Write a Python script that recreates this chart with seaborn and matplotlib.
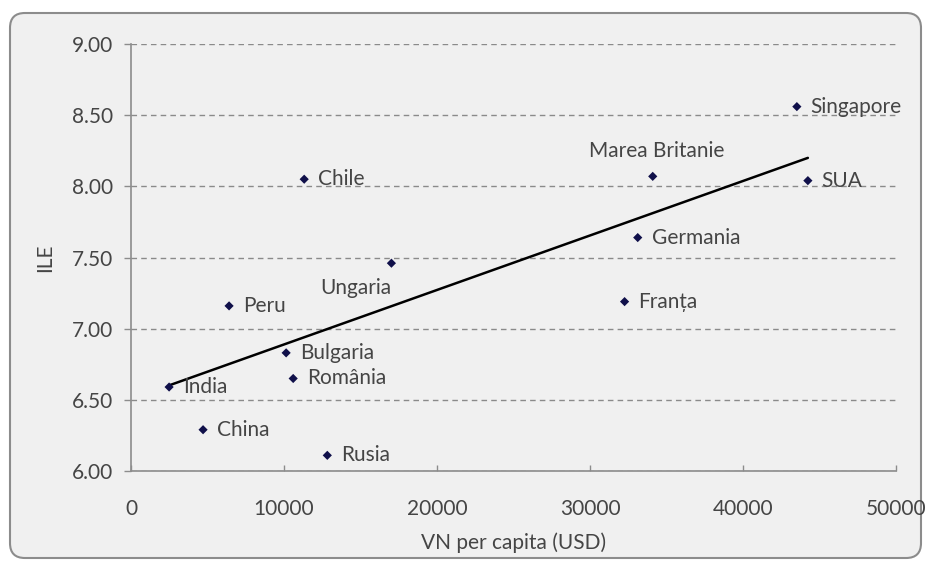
import numpy as np
import pandas as pd
import matplotlib
matplotlib.use("Agg")
import matplotlib.pyplot as plt
import seaborn as sns
from matplotlib.patches import FancyBboxPatch
from matplotlib.ticker import FormatStrFormatter

# Data
countries = ["India", "China", "Rusia", "Peru", "Bulgaria", "România", "Chile",
             "Ungaria", "Germania", "Franța", "Marea Britanie", "Singapore", "SUA"]
gdp_per_capita = [2490, 4710, 12830, 6410, 10140, 10600, 11320,
                  17020, 33120, 32260, 34100, 43520, 44240]
ile = [6.59, 6.29, 6.11, 7.16, 6.83, 6.65, 8.05,
       7.46, 7.64, 7.19, 8.07, 8.56, 8.04]
x_ticks = [0, 10000, 20000, 30000, 40000, 50000]
y_ticks = [6.0, 6.5, 7.0, 7.5, 8.0, 8.5, 9.0]

# label placement (offset in points, horizontal alignment)
label_pos = {"Marea Britanie": ((3, 18), "center"),
             "Ungaria": ((0, -18), "right")}
default_pos = ((10, 0), "left")

df = pd.DataFrame({"country": countries, "gdp": gdp_per_capita, "ile": ile})

sns.set_style("white")
plt.rcParams["font.family"] = ["Lato", "DejaVu Sans"]

text_color = "#454545"
axis_color = "#8c8c8c"
fs = 15

fig = plt.figure(figsize=(9.31, 5.69), dpi=100, facecolor="white")

# rounded frame around the chart area
frame = FancyBboxPatch((10 / 931, 1 - 558 / 569), 911 / 931, 545 / 569,
                       boxstyle="round,pad=0,rounding_size=0.016",
                       mutation_aspect=931 / 569,
                       transform=fig.transFigure, facecolor="#f0f0f0",
                       edgecolor="#8c8c8c", linewidth=1.5, zorder=-10)
fig.patches.append(frame)

ax = fig.add_axes([131 / 931, 1 - 471 / 569, 765 / 931, 427 / 569])
ax.set_facecolor("none")
ax.set_zorder(1)

# trend line (linear fit)
sns.regplot(data=df, x="gdp", y="ile", scatter=False, ci=None, color="black",
            line_kws={"linewidth": 1.8}, ax=ax)
sns.scatterplot(data=df, x="gdp", y="ile", marker="D", s=22, color="#10104a",
                edgecolor="none", ax=ax, zorder=3)

for name, xv, yv in zip(countries, gdp_per_capita, ile):
    offset, ha = label_pos.get(name, default_pos)
    ax.annotate(name, (xv, yv), xytext=offset, textcoords="offset points",
                ha=ha, va="center", fontsize=fs, color=text_color)

ax.set_xlim(x_ticks[0], x_ticks[-1])
ax.set_ylim(y_ticks[0], y_ticks[-1])
ax.set_xticks(x_ticks)
ax.set_yticks(y_ticks)
ax.yaxis.set_major_formatter(FormatStrFormatter("%.2f"))

ax.grid(axis="y", color="#8a8a8a", linestyle=(0, (4, 3)), linewidth=1)
ax.set_axisbelow(True)

sns.despine(ax=ax, top=True, right=True)
for side in ["left", "bottom"]:
    ax.spines[side].set_color(axis_color)
    ax.spines[side].set_linewidth(1.2)

ax.tick_params(axis="y", direction="out", length=5, width=1, color=axis_color,
               pad=8, labelsize=fs, labelcolor=text_color, left=True)
ax.tick_params(axis="x", direction="in", length=4, width=1, color=axis_color,
               pad=20, labelsize=fs, labelcolor=text_color, bottom=True)

ax.set_xlabel("VN per capita (USD)", fontsize=fs, color=text_color, labelpad=10)
ax.set_ylabel("ILE", fontsize=fs, color=text_color, labelpad=12)

fig.savefig("out.png", dpi=100)
